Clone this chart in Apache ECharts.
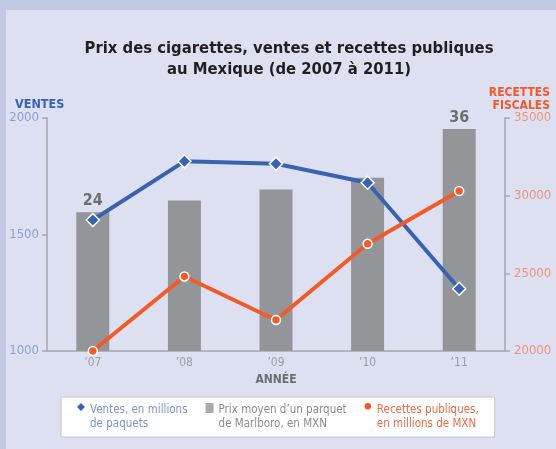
<!DOCTYPE html>
<html>
<head>
<meta charset="utf-8">
<script src="https://cdn.jsdelivr.net/npm/echarts@6/dist/echarts.min.js"></script>
<style>
  html, body { margin: 0; padding: 0; }
  #chart { width: 556px; height: 449px; }
</style>
</head>
<body>
<div id="chart"></div>
<script>
// données
var annees = ['’07', '’08', '’09', '’10', '’11']
var ventes = [1562, 1814, 1804, 1722, 1267]          // millions de paquets
var prix = [24, 25.7, 27.3, 29, 36]                  // MXN le paquet
var recettes = [20000, 24800, 22000, 26900, 30300]   // millions de MXN
var ventesTicks = [1000, 2000, 500]                  // min, max, pas
var recettesTicks = [20000, 35000, 5000]

var font = "'DejaVu Sans Condensed', 'Liberation Sans', Arial, sans-serif"

var chart = echarts.init(document.getElementById('chart'))

var option = {
  backgroundColor: '#dde0f1',
  textStyle: { fontFamily: font },
  // bandes du cadre
  graphic: [
    { type: 'rect', left: 0, top: 0, shape: { width: 556, height: 10 }, style: { fill: '#c3c8e5' }, z: -1 },
    { type: 'rect', left: 0, top: 0, shape: { width: 6, height: 449 }, style: { fill: '#c3c8e5' }, z: -1 }
  ],
  title: [
    {
      text: 'Prix des cigarettes, ventes et recettes publiques\nau Mexique (de 2007 à 2011)',
      left: 284,
      top: 33,
      textAlign: 'center',
      textStyle: { fontFamily: font, fontSize: 16.5, fontWeight: 'bold', color: '#231f20', lineHeight: 21 }
    },
    {
      text: 'VENTES',
      left: 10,
      top: 93,
      textStyle: { fontFamily: font, fontSize: 12.5, fontWeight: 'bold', color: '#3a62b0' }
    },
    {
      text: 'RECETTES\nFISCALES',
      left: 545,
      top: 81,
      textAlign: 'right',
      textStyle: { fontFamily: font, fontSize: 12, fontWeight: 'bold', color: '#f15a29', lineHeight: 13 }
    }
  ],
  grid: {
    left: 47,
    right: 51,
    top: 118,
    bottom: 98
  },
  legend: {
    left: 61,
    top: 397,
    backgroundColor: '#ffffff',
    borderColor: '#c6c7cc',
    borderWidth: 1,
    padding: [6, 16, 6, 16],
    itemGap: 18,
    itemWidth: 8,
    itemHeight: 28,
    selectedMode: false,
    textStyle: { fontFamily: font, fontSize: 11.5, lineHeight: 14 },
    data: [
      {
        name: 'ventes',
        icon: 'path://M4,0 L8,4 L4,8 L0,4 Z M4,28 L4,28 Z',
        itemStyle: { color: '#3a62b0', borderWidth: 0 },
        textStyle: { color: '#7b95cf' }
      },
      {
        name: 'prix',
        icon: 'path://M0,0 L8,0 L8,10 L0,10 Z M4,28 L4,28 Z',
        itemStyle: { color: '#a7a9ac', borderWidth: 0 },
        textStyle: { color: '#8b8c8f' }
      },
      {
        name: 'recettes',
        icon: 'path://M4,2 A3,3 0 1,1 4,8 A3,3 0 1,1 4,2 Z M4,28 L4,28 Z',
        itemStyle: { color: '#f15a29', borderWidth: 0 },
        textStyle: { color: '#f26b45' }
      }
    ],
    formatter: function (name) {
      if (name === 'ventes') return 'Ventes, en millions\nde paquets'
      if (name === 'prix') return 'Prix moyen d’un parquet\nde Marlboro, en MXN'
      return 'Recettes publiques,\nen millions de MXN'
    }
  },
  xAxis: {
    type: 'category',
    data: annees,
    name: 'ANNÉE',
    nameLocation: 'middle',
    nameGap: 23,
    nameTextStyle: { fontFamily: font, fontSize: 12, fontWeight: 'bold', color: '#6d6e71' },
    axisLine: { lineStyle: { color: '#b3b4bb', width: 2 } },
    axisTick: { show: false },
    axisLabel: { color: '#9d9ea2', fontSize: 12, margin: 6 }
  },
  yAxis: [
    {
      type: 'value',
      min: ventesTicks[0],
      max: ventesTicks[1],
      interval: ventesTicks[2],
      splitLine: { show: false },
      axisLine: { show: true, lineStyle: { color: '#a5a6ad', width: 1.5 } },
      axisTick: { show: true, length: 5, lineStyle: { color: '#a5a6ad', width: 1.5 } },
      axisLabel: { color: '#8a9fd3', fontSize: 13, margin: 8, formatter: function (v) { return String(v) } }
    },
    {
      type: 'value',
      position: 'right',
      min: recettesTicks[0],
      max: recettesTicks[1],
      interval: recettesTicks[2],
      splitLine: { show: false },
      axisLine: { show: true, lineStyle: { color: '#a5a6ad', width: 1.5 } },
      axisTick: { show: true, length: 5, lineStyle: { color: '#a5a6ad', width: 1.5 } },
      axisLabel: { color: '#f0927a', fontSize: 13, margin: 9, formatter: function (v) { return String(v) } }
    },
    {
      // axe caché pour les barres de prix
      type: 'value',
      min: 4,
      max: 37.6,
      show: false,
      splitLine: { show: false }
    }
  ],
  series: [
    {
      name: 'prix',
      type: 'bar',
      yAxisIndex: 2,
      barWidth: 33,
      itemStyle: { color: '#939598' },
      label: {
        position: 'top',
        distance: 3,
        fontFamily: font,
        fontSize: 16,
        fontWeight: 'bold',
        color: '#6d6e71'
      },
      data: prix.map(function (v, i) {
        return (i === 0 || i === prix.length - 1) ? { value: v, label: { show: true } } : v
      }),
      z: 1
    },
    {
      name: 'ventes',
      type: 'line',
      yAxisIndex: 0,
      data: ventes,
      symbol: 'diamond',
      symbolSize: 13,
      lineStyle: { color: '#3a62b0', width: 4 },
      itemStyle: { color: '#3a62b0', borderColor: '#ffffff', borderWidth: 1.5 },
      z: 3
    },
    {
      name: 'recettes',
      type: 'line',
      yAxisIndex: 1,
      data: recettes,
      symbol: 'circle',
      symbolSize: 9,
      lineStyle: { color: '#f15a29', width: 4 },
      itemStyle: { color: '#f15a29', borderColor: '#ffffff', borderWidth: 1.5 },
      z: 4
    }
  ]
}

chart.setOption(option)
</script>
</body>
</html>
